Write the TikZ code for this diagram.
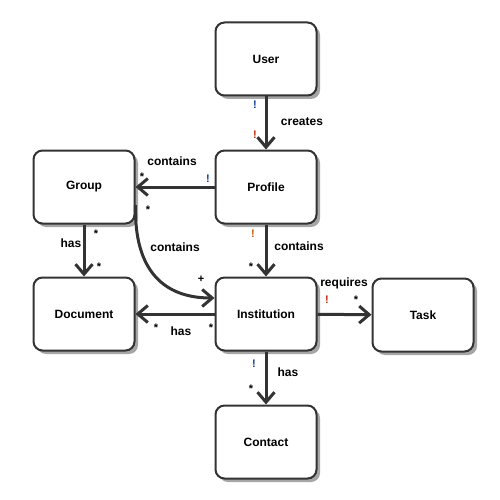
\documentclass[tikz,border=0pt]{standalone}
\usepackage{fontspec}
\setmainfont{Liberation Sans}
\usetikzlibrary{arrows.meta,shadows}
\definecolor{edge}{RGB}{51,51,51}
\definecolor{exblue}{RGB}{20,60,150}
\definecolor{exred}{RGB}{190,40,10}
\definecolor{exorange}{RGB}{190,90,10}
\begin{document}
\begin{tikzpicture}[x=1pt,y=-1pt,
  box/.style={draw=edge, line width=2pt, rounded corners=9pt, fill=white,
    minimum width=101pt, minimum height=73pt, font=\fontsize{12}{14}\selectfont\bfseries,
    drop shadow={shadow xshift=3.5pt, shadow yshift=-3.5pt, fill=black!35, opacity=1}},
  conn/.style={draw=edge, line width=3pt, -{Straight Barb[length=10pt,width=17pt]}},
  lab/.style={font=\fontsize{12}{14}\selectfont\bfseries, inner sep=0pt},
  mult/.style={font=\fontsize{11}{13}\selectfont\bfseries, inner sep=0pt}]
\useasboundingbox (0,0) rectangle (500,500);
\node[box] (U) at (266,59) {User};
\node[box] (P) at (266,187) {Profile};
\node[box] (G) at (84,187) {Group};
\node[box] (D) at (84,314) {Document};
\node[box] (I) at (266,314) {Institution};
\node[box] (T) at (423,315) {Task};
\node[box] (C) at (266,442) {Contact};
% connectors
\draw[conn] (U) -- (P);
\draw[conn] (P) -- (G);
\draw[conn] (G) -- (D);
\draw[conn] (P) -- (I);
\draw[conn] (I) -- (D);
\draw[conn] (I) -- (T);
\draw[conn] (I) -- (C);
\draw[conn] ([yshift=-18pt]G.east) .. controls (134,272) and (165,298) .. ([yshift=16pt]I.west);
% labels
\node[lab] (l1) at (302,122) {creates};
\node[mult, text=exblue] (m1) at (255,105) {!};
\node[mult, text=exred] (m2) at (255,135) {!};
\node[lab] (l2) at (172,161) {contains};
\node[mult, text=exblue] (m3) at (208,179) {!};
\node[mult] (m4) at (142,177) {*};
\node[mult] (m5) at (148,210) {*};
\node[lab] (l3) at (175,247) {contains};
\node[mult] (m6) at (201,279) {+};
\node[lab] (l4) at (71,243) {has};
\node[mult] (m7) at (96,234) {*};
\node[mult] (m8) at (99,267) {*};
\node[mult, text=exorange] (m9) at (253,234) {!};
\node[lab] (l5) at (299,246) {contains};
\node[mult] (m10) at (251,267) {*};
\node[mult] (m11) at (156,328) {*};
\node[lab] (l6) at (181,331) {has};
\node[mult] (m12) at (211,328) {*};
\node[lab] (l7) at (344,283) {requires};
\node[mult, text=exred] (m13) at (327,300) {!};
\node[mult] (m14) at (356,300) {*};
\node[mult, text=exblue] (m15) at (254,364) {!};
\node[lab] (l8) at (288,372) {has};
\node[mult] (m16) at (251,389) {*};
\end{tikzpicture}
\end{document}
